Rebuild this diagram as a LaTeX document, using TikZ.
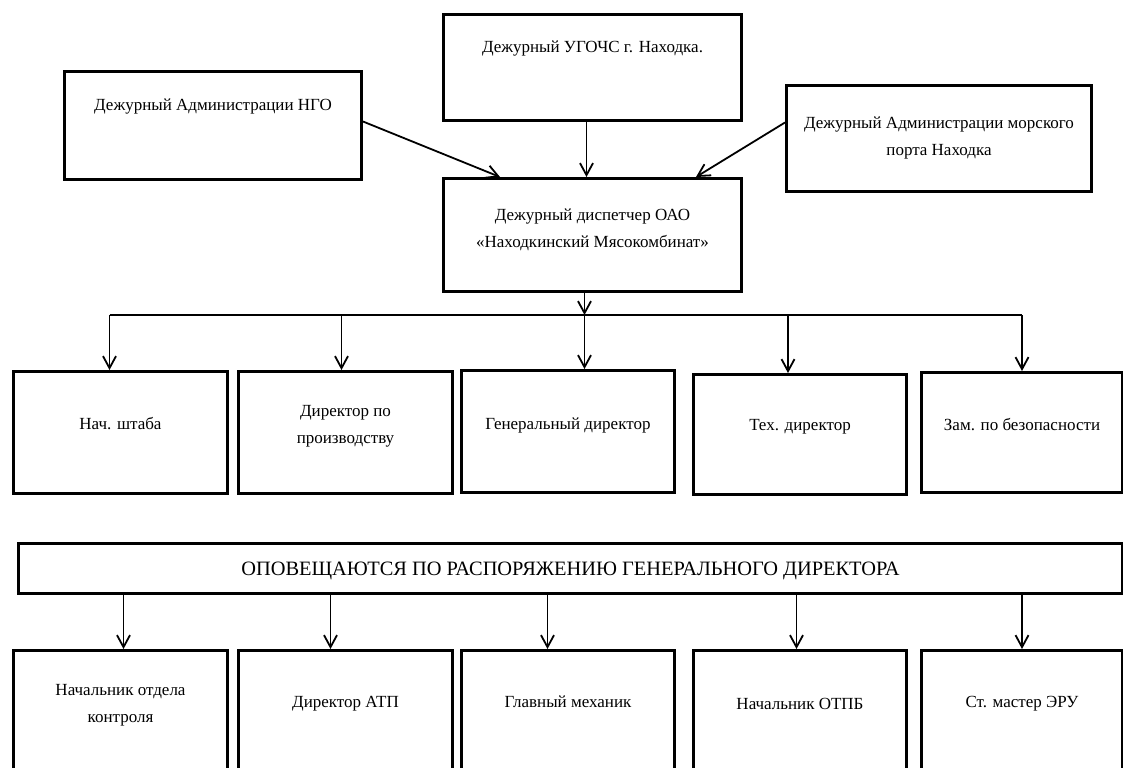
\documentclass[tikz,border=0pt]{standalone}
\usepackage{fontspec}
\setmainfont{Liberation Serif}
\usetikzlibrary{arrows.meta}

\begin{document}
\begin{tikzpicture}[x=0.5pt, y=-0.5pt,
    box/.style={draw, line width=1.5pt, anchor=north west, inner sep=0pt, align=center,
      font=\fontsize{8.5}{13.75}\selectfont},
    arr/.style={line width=0.9pt, -{Straight Barb[length=6pt,width=6.5pt]}},
    bus/.style={line width=0.9pt}]
  \useasboundingbox (0,0) rectangle (1123,767);
  \clip (0,0) rectangle (1123,767);
  % --- дежурные службы ---
  \node[box, minimum width=149pt, text height=19pt, text depth=34pt] (ugo) at (442,13) {Дежурный УГОЧС г. Находка.};
  \node[box, minimum width=148.5pt, text height=19.5pt, text depth=34.5pt] (ngo) at (63,70) {Дежурный Администрации НГО};
  % двухстрочные узлы: отсчёт от последней строки
  \node[box, minimum width=152.5pt, text height=35pt, text depth=18pt] (port) at (785,84) {Дежурный Администрации морского\\порта Находка};
  \node[box, minimum width=149pt, text height=34.5pt, text depth=22pt] (disp) at (442,177) {Дежурный диспетчер ОАО\\«Находкинский Мясокомбинат»};
  \draw[arr] ([yshift=2pt]ngo.east) -- ([xshift=29pt]disp.north west);
  \draw[arr] ([xshift=-3pt]ugo.south) -- ([xshift=-3pt]disp.north);
  \draw[arr] ([yshift=8pt]port.west) -- ([xshift=-23.5pt]disp.north east);

  % --- руководство ---
  \coordinate (bus) at (583,315);
  \node[box, minimum width=107pt, text height=29pt, text depth=32pt] (n1) at (12,370) {Нач. штаба};
  \node[box, minimum width=107pt, text height=36pt, text depth=25pt] (n2) at (237,370) {Директор по\\производству};
  \node[box, minimum width=106.5pt, text height=29.5pt, text depth=31.5pt] (n3) at (460,369) {Генеральный директор};
  \node[box, minimum width=106.5pt, text height=28pt, text depth=32pt] (n4) at (692,373) {Тех. директор};
  \node[box, minimum width=100.5pt, text height=29pt, text depth=31pt] (n5) at (920,371) {Зам. по безопасности};
  \draw[arr] ([xshift=-4pt]disp.south) -- ([xshift=-4pt]disp.south |- bus);
  \draw[bus] ([xshift=-5.5pt]n1.north |- bus) -- (n5.north |- bus);
  \foreach \n/\s in {n1/-5.5, n2/-2, n3/8.25, n4/-6, n5/0}
    \draw[arr] ([xshift=\s pt]\n.north |- bus) -- ([xshift=\s pt]\n.north);

  % --- по распоряжению генерального директора ---
  \node[box, minimum width=552pt, text height=16pt, text depth=9pt,
    font=\fontsize{10.2}{12}\selectfont] (banner) at (17,542) {ОПОВЕЩАЮТСЯ ПО РАСПОРЯЖЕНИЮ ГЕНЕРАЛЬНОГО ДИРЕКТОРА};
  \node[box, minimum width=107pt, text height=36pt, text depth=29pt] (m1) at (12,649) {Начальник отдела\\контроля};
  \node[box, minimum width=107pt, text height=28.5pt, text depth=36.5pt] (m2) at (237,649) {Директор АТП};
  \node[box, minimum width=106.5pt, text height=28.5pt, text depth=36.5pt] (m3) at (460,649) {Главный механик};
  \node[box, minimum width=106.5pt, text height=29.5pt, text depth=35.5pt] (m4) at (692,649) {Начальник ОТПБ};
  \node[box, minimum width=100.5pt, text height=28.5pt, text depth=36.5pt] (m5) at (920,649) {Ст. мастер ЭРУ};
  \foreach \n/\s in {m1/1.5, m2/-7.5, m3/-10.25, m4/-1.75, m5/0}
    \draw[arr] ([xshift=\s pt]\n.north |- banner.south) -- ([xshift=\s pt]\n.north);
\end{tikzpicture}
\end{document}
